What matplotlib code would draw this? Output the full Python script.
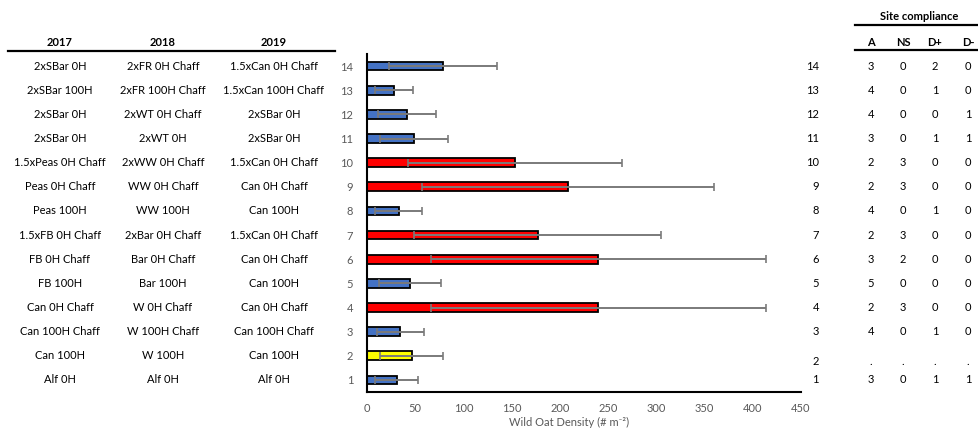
import matplotlib
matplotlib.use("Agg")
import matplotlib.pyplot as plt
from matplotlib import transforms
from matplotlib.lines import Line2D

plt.rcParams['font.family'] = ['Lato', 'DejaVu Sans']

# Treatment sequence number (1 = bottom row)
seq = list(range(1, 15))

# Rotation per year, listed from sequence 1 to 14
rot_2017 = ["Alf 0H", "Can 100H", "Can 100H Chaff", "Can 0H Chaff", "FB 100H",
            "FB 0H Chaff", "1.5xFB 0H Chaff", "Peas 100H", "Peas 0H Chaff",
            "1.5xPeas 0H Chaff", "2xSBar 0H", "2xSBar 0H", "2xSBar 100H", "2xSBar 0H"]
rot_2018 = ["Alf 0H", "W 100H", "W 100H Chaff", "W 0H Chaff", "Bar 100H",
            "Bar 0H Chaff", "2xBar 0H Chaff", "WW 100H", "WW 0H Chaff",
            "2xWW 0H Chaff", "2xWT 0H", "2xWT 0H Chaff", "2xFR 100H Chaff", "2xFR 0H Chaff"]
rot_2019 = ["Alf 0H", "Can 100H", "Can 100H Chaff", "Can 0H Chaff", "Can 100H",
            "Can 0H Chaff", "1.5xCan 0H Chaff", "Can 100H", "Can 0H Chaff",
            "1.5xCan 0H Chaff", "2xSBar 0H", "2xSBar 0H", "1.5xCan 100H Chaff",
            "1.5xCan 0H Chaff"]

# Wild oat density (plants per m2) and error
density = [30.6, 46.2, 34.4, 240, 44.4, 240, 177, 32.7, 208.5, 153.4, 48.9, 41.7, 27.6, 78.6]
err = [22, 33, 24.5, 174, 32, 174, 128, 24, 151, 111, 35, 30, 19.6, 56]

# Group of each sequence: b = low, r = high, y = no compliance data
group = ["b", "y", "b", "r", "b", "r", "r", "b", "r", "r", "b", "b", "b", "b"]

# Site compliance counts
comp_A = ["3", ".", "4", "2", "5", "3", "2", "4", "2", "2", "3", "4", "4", "3"]
comp_NS = ["0", ".", "0", "3", "0", "2", "3", "0", "3", "3", "0", "0", "0", "0"]
comp_Dp = ["1", ".", "1", "0", "0", "0", "0", "1", "0", "0", "1", "0", "1", "2"]
comp_Dm = ["1", ".", "0", "0", "0", "0", "0", "0", "0", "0", "1", "1", "0", "0"]

xticks = [0, 50, 100, 150, 200, 250, 300, 350, 400, 450]

palette = {"b": "#4472C4", "r": "#FF0000", "y": "#FFFF00"}

W, H = 979, 430
fig = plt.figure(figsize=(W / 100, H / 100), dpi=100)


def fx(px):
    return px / W


def fy(py):
    return 1 - py / H


ax = fig.add_axes([fx(367), fy(392), fx(801) - fx(367), fy(54) - fy(392)])
ax.barh(seq, density, height=0.36, color=[palette[g] for g in group],
        edgecolor="black", linewidth=1.3, zorder=2)
ax.errorbar(density, seq, xerr=err, fmt="none", ecolor="#7a7a7a",
            elinewidth=1.4, capsize=3, capthick=1.2, zorder=3)

ax.set_xlim(0, 450)
ax.set_ylim(0.5, 14.5)
ax.set_xticks(xticks)
ax.set_yticks(seq)
ax.set_yticklabels([str(s) for s in seq])
ax.tick_params(axis="both", length=0, labelsize=8, labelcolor="#595959")
ax.tick_params(axis="y", pad=10)
ax.tick_params(axis="x", pad=8)
for side in ("top", "right"):
    ax.spines[side].set_visible(False)
for side in ("left", "bottom"):
    ax.spines[side].set_linewidth(1.5)
    ax.spines[side].set_color("black")

fig.text(fx(569), fy(422), "Wild Oat Density (# m\u207b\u00b2)", ha="center",
         va="center", fontsize=8, color="#595959",
         family=["Lato", "DejaVu Sans"])

# Rotation table on the left, rows tied to the bar positions
row_tr = transforms.blended_transform_factory(fig.transFigure, ax.transData)
col_x = [60, 163, 274]
for cx, title, labels in zip(col_x, ["2017", "2018", "2019"],
                             [rot_2017, rot_2018, rot_2019]):
    fig.text(fx(cx), fy(43), title, ha="center", va="center", fontsize=8,
             fontweight="bold")
    for s, lab in zip(seq, labels):
        fig.text(fx(cx), s, lab, ha="center", va="center", fontsize=8,
                 transform=row_tr)
fig.add_artist(Line2D([fx(8), fx(335)], [fy(51), fy(51)],
                      transform=fig.transFigure, color="black", lw=1.6))

# Site compliance table on the right
fig.text(fx(919), fy(17), "Site compliance", ha="center", va="center",
         fontsize=8, fontweight="bold")
fig.add_artist(Line2D([fx(855), fx(979)], [fy(25), fy(25)],
                      transform=fig.transFigure, color="black", lw=1.6))
fig.add_artist(Line2D([fx(855), fx(979)], [fy(50), fy(50)],
                      transform=fig.transFigure, color="black", lw=1.6))
comp_x = [871, 903, 935, 968]
for cx, head, vals in zip(comp_x, ["A", "NS", "D+", "D-"],
                          [comp_A, comp_NS, comp_Dp, comp_Dm]):
    fig.text(fx(cx), fy(43), head, ha="center", va="center", fontsize=8,
             fontweight="bold")
    for s, v in zip(seq, vals):
        ypos = 1.75 if s == 2 else s
        fig.text(fx(cx), ypos, v, ha="center", va="center", fontsize=8,
                 transform=row_tr)
for s in seq:
    ypos = 1.75 if s == 2 else s
    fig.text(fx(819), ypos, str(s), ha="right", va="center", fontsize=8,
             transform=row_tr)

fig.savefig("out.png", dpi=100, facecolor="white")
